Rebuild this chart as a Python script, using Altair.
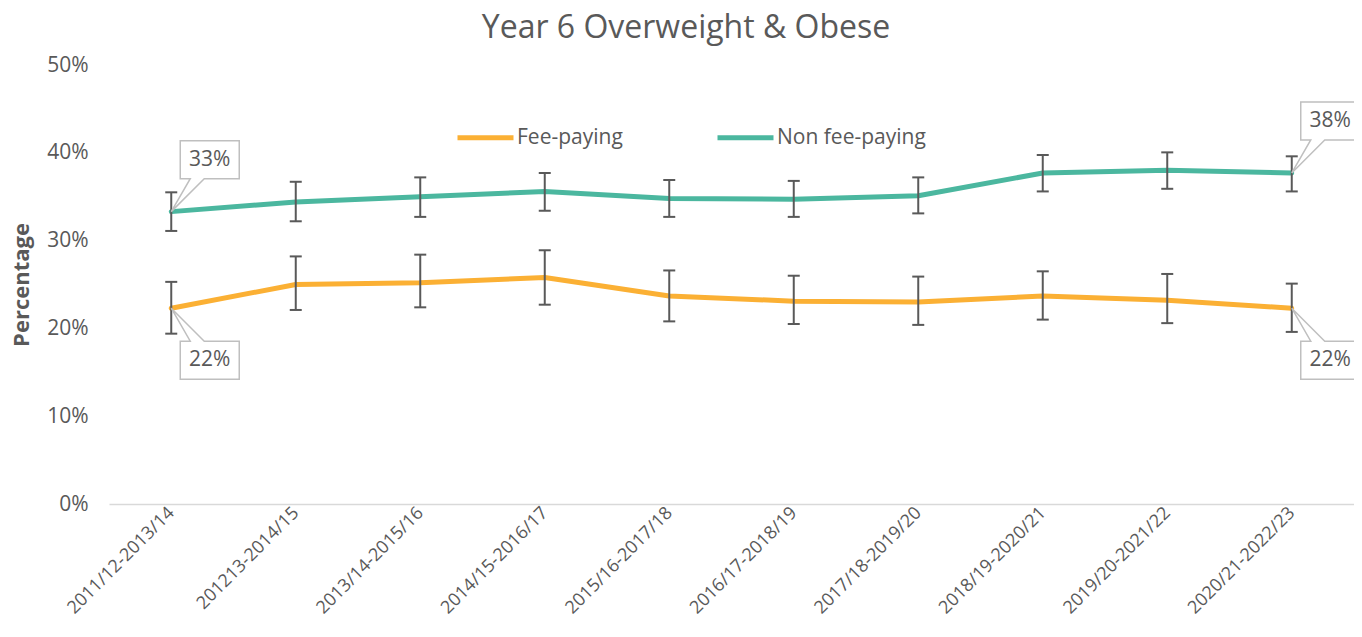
import altair as alt
import pandas as pd

title_text = "Year 6 Overweight & Obese"
categories = ["2011/12-2013/14", "201213-2014/15", "2013/14-2015/16", "2014/15-2016/17",
              "2015/16-2017/18", "2016/17-2018/19", "2017/18-2019/20", "2018/19-2020/21",
              "2019/20-2021/22", "2020/21-2022/23"]
series_names = ["Fee-paying", "Non fee-paying"]

fee = [22.3, 25.0, 25.2, 25.8, 23.7, 23.1, 23.0, 23.7, 23.2, 22.3]
fee_lo = [19.4, 22.1, 22.4, 22.7, 20.8, 20.5, 20.4, 21.0, 20.6, 19.6]
fee_hi = [25.3, 28.2, 28.4, 28.9, 26.6, 26.0, 25.9, 26.5, 26.2, 25.1]

non = [33.3, 34.4, 35.0, 35.6, 34.8, 34.7, 35.1, 37.7, 38.0, 37.7]
non_lo = [31.1, 32.2, 32.7, 33.4, 32.7, 32.7, 33.1, 35.6, 35.9, 35.6]
non_hi = [35.5, 36.7, 37.2, 37.7, 36.9, 36.8, 37.2, 39.75, 40.05, 39.6]

y_ticks = [0, 10, 20, 30, 40, 50]

rows = []
for name, vals, los, his in [(series_names[0], fee, fee_lo, fee_hi),
                             (series_names[1], non, non_lo, non_hi)]:
    for c, v, lo, hi in zip(categories, vals, los, his):
        rows.append({"series": name, "category": c, "value": v, "lo": lo, "hi": hi})
df = pd.DataFrame(rows)

FONT = "Open Sans"
TXT = "#595959"
ORANGE = "#FBB034"
TEAL = "#4BB79F"

x_enc = alt.X("category:N", sort=categories,
              scale=alt.Scale(type="point", padding=0.5),
              axis=alt.Axis(title=None, labelAngle=-45, labelAlign="right", labelBaseline="middle",
                            labelFontSize=18, labelFont=FONT, labelColor=TXT, labelPadding=6,
                            ticks=False, domainColor="#D9D9D9", domainWidth=1.5,
                            labelOverlap=False, labelBound=False))
y_scale = alt.Scale(domain=[0, 50], nice=False)
y_axis = alt.Axis(title="Percentage", values=y_ticks, labelExpr="datum.value + '%'",
                  grid=False, domain=False, ticks=False, labelFontSize=21, labelFont=FONT,
                  labelColor=TXT, labelPadding=21, titleFont=FONT, titleFontSize=22,
                  titleFontWeight="bold", titleColor=TXT, titlePadding=13)

base = alt.Chart(df)

lines = base.mark_line(strokeWidth=5, strokeJoin="round", strokeCap="round").encode(
    x=x_enc,
    y=alt.Y("value:Q", scale=y_scale, axis=y_axis),
    color=alt.Color("series:N", scale=alt.Scale(domain=series_names, range=[ORANGE, TEAL]),
                    legend=alt.Legend(title=None, orient="none", direction="horizontal",
                                      legendX=346, legendY=42, symbolType="stroke",
                                      symbolSize=3136, symbolStrokeWidth=5,
                                      labelFontSize=21, labelFont=FONT, labelColor=TXT,
                                      labelOffset=1, columnPadding=84)),
)

xe = alt.X("category:N", sort=categories)
err_rule = base.mark_rule(color="#595959", strokeWidth=2).encode(x=xe, y="lo:Q", y2="hi:Q")
err_lo = base.mark_tick(color="#595959", size=12, thickness=2, opacity=1).encode(x=xe, y="lo:Q")
err_hi = base.mark_tick(color="#595959", size=12, thickness=2, opacity=1).encode(x=xe, y="hi:Q")

ends = [categories[0], categories[-1]]
shape_up = "M0,0 L19,-33 L9,-33 L9,-71 L68,-71 L68,-33 L33,-33 Z"
shape_down = "M0,0 L19,33 L9,33 L9,71 L68,71 L68,33 L33,33 Z"

up = base.transform_filter(alt.datum.series == series_names[1]).transform_filter(
    alt.FieldOneOfPredicate(field="category", oneOf=ends)).transform_calculate(
    lbl="format(datum.value, '.0f') + '%'")
down = base.transform_filter(alt.datum.series == series_names[0]).transform_filter(
    alt.FieldOneOfPredicate(field="category", oneOf=ends)).transform_calculate(
    lbl="format(datum.value, '.0f') + '%'")

box_up = up.mark_point(shape=shape_up, size=4, filled=True, fill="white", stroke="#BFBFBF",
                       strokeWidth=1.5, opacity=1).encode(x=xe, y="value:Q")
box_down = down.mark_point(shape=shape_down, size=4, filled=True, fill="white", stroke="#BFBFBF",
                           strokeWidth=1.5, opacity=1).encode(x=xe, y="value:Q")
txt_up = up.mark_text(font=FONT, fontSize=21, color=TXT, dx=38.5, dy=-52, baseline="middle").encode(
    x=xe, y="value:Q", text="lbl:N")
txt_down = down.mark_text(font=FONT, fontSize=21, color=TXT, dx=38.5, dy=52, baseline="middle").encode(
    x=xe, y="value:Q", text="lbl:N")

title_mark = alt.Chart(pd.DataFrame({"t": [title_text]})).mark_text(
    font=FONT, fontSize=32, color=TXT, align="center", baseline="alphabetic").encode(
    text="t:N", x=alt.value(577), y=alt.value(-27))

chart = alt.layer(lines, err_rule, err_lo, err_hi, box_up, box_down, txt_up, txt_down, title_mark).properties(
    width=1245, height=439,
    autosize=alt.AutoSizeParams(type="none"),
    padding={"left": 101, "top": 57, "right": 0, "bottom": 120},
).configure_view(stroke=None)

chart.save("out.html", embed_options={"renderer": "svg", "actions": False})
